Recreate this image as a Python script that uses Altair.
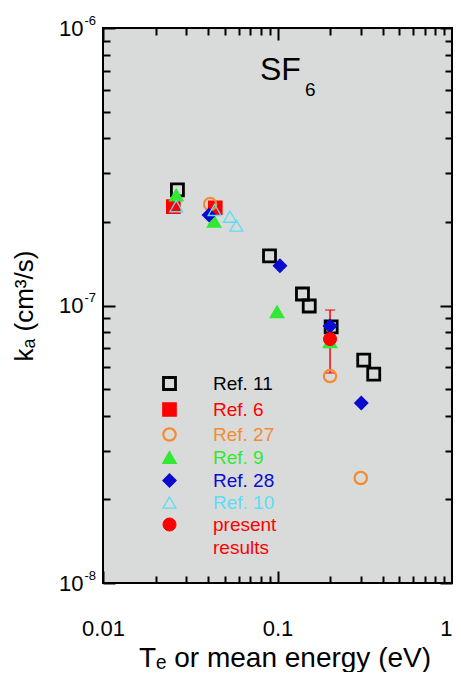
import altair as alt
import pandas as pd

# ---------------- data ----------------
series = ["Ref. 11", "Ref. 6", "Ref. 27", "Ref. 9", "Ref. 28", "Ref. 10", "present results"]
colors = ["#000000", "#ff0000", "#f58b2e", "#33e833", "#0a0ad0", "#5fdcf5", "#ff0000"]
fills = ["transparent", "#ff0000", "transparent", "#33e833", "#0a0ad0", "transparent", "#ff0000"]
shapes = ["square", "square", "circle", "triangle-up", "diamond", "triangle-up", "circle"]
sizes = [144, 170, 60, 180, 190, 150, 144]
stroke_widths = [2.8, 1, 4, 1, 1, 3.5, 1]

ref11_x = [0.0267, 0.090, 0.139, 0.152, 0.203, 0.312, 0.356]
ref11_y = [2.61e-7, 1.51e-7, 1.10e-7, 9.96e-8, 8.37e-8, 6.36e-8, 5.66e-8]
ref6_x = [0.0253, 0.044]
ref6_y = [2.27e-7, 2.25e-7]
ref27_x = [0.0411, 0.200, 0.300]
ref27_y = [2.32e-7, 5.57e-8, 2.39e-8]
ref9_x = [0.0263, 0.0433, 0.0994, 0.200]
ref9_y = [2.50e-7, 2.01e-7, 9.48e-8, 7.4e-8]
ref28_x = [0.0405, 0.1033, 0.200, 0.302]
ref28_y = [2.12e-7, 1.39e-7, 8.43e-8, 4.45e-8]
ref10_x = [0.0263, 0.0436, 0.0534, 0.0581]
ref10_y = [2.28e-7, 2.21e-7, 2.09e-7, 1.94e-7]
present_x = [0.200]
present_y = [7.57e-8]
err_lo = [5.71e-8]
err_hi = [9.63e-8]

x_major = [0.01, 0.1, 1]
x_minor = [m * d for d in (0.01, 0.1) for m in range(2, 10)]
y_major = [1e-8, 1e-7, 1e-6]
y_minor = [m * d for d in (1e-8, 1e-7) for m in range(2, 10)]

title_main = "SF"
title_sub = "6"
x_title = "Tₑ or mean energy (eV)"
y_title = "kₐ (cm³/s)"

# ---------------- tables ----------------
xs_all = [ref11_x, ref6_x, ref27_x, ref9_x, ref28_x, ref10_x, present_x]
ys_all = [ref11_y, ref6_y, ref27_y, ref9_y, ref28_y, ref10_y, present_y]
rows = []
for s, xv, yv in zip(series, xs_all, ys_all):
    for a, b in zip(xv, yv):
        rows.append({"x": a, "y": b, "series": s})
df = pd.DataFrame(rows)
df_err = pd.DataFrame({"x": present_x, "lo": err_lo, "hi": err_hi})
df_caps = pd.DataFrame({"x": present_x * 2, "y": err_lo + err_hi})

FONT = "Liberation Sans"
W, H = 349, 555
xs = alt.Scale(type="log", domain=[0.01, 1], nice=False)
ys = alt.Scale(type="log", domain=[1e-8, 1e-6], nice=False)

color_expr = " : ".join(f"datum.value === '{s}' ? '{c}'" for s, c in zip(series, colors)) + " : 'black'"
label_expr = "datum.value === 'present results' ? ['present', 'results'] : datum.label"

legend = alt.Legend(
    title=None, orient="none", legendX=57, legendY=346,
    labelFontSize=19, labelFont=FONT, labelColor={"expr": color_expr},
    labelExpr=label_expr, rowPadding=2, labelOffset=34, labelLimit=300,
    symbolOpacity=1,
)

# ---------------- layers ----------------
err = alt.Chart(df_err).mark_rule(color="#ff0000", strokeWidth=1.5).encode(
    x=alt.X("x:Q", scale=xs, axis=None),
    y=alt.Y("lo:Q", scale=ys, axis=None),
    y2="hi:Q",
)
caps = alt.Chart(df_caps).mark_tick(color="#ff0000", orient="horizontal", size=10, thickness=1.5).encode(
    x=alt.X("x:Q", scale=xs, axis=None),
    y=alt.Y("y:Q", scale=ys, axis=None),
)

points = alt.Chart(df).mark_point(filled=True, opacity=1).encode(
    x=alt.X("x:Q", scale=xs, axis=alt.Axis(
        orient="bottom", values=x_major, format="~g", ticks=False, tickSize=0, domain=False, grid=False,
        labelFontSize=22, labelFont=FONT, labelColor="black", labelPadding=35, labelFlush=False,
        labelAlign={"condition": {"test": "datum.value >= 1", "value": "right"}, "value": "center"},
        title=x_title, titleFontSize=28, titleFont=FONT, titleFontWeight="normal",
        titleColor="black", titlePadding=5, titleX=W / 2 + 7)),
    y=alt.Y("y:Q", scale=ys, axis=alt.Axis(
        orient="left", values=y_major, labelExpr="'10'", ticks=False, tickSize=0, domain=False,
        grid=False, labelFontSize=22, labelFont=FONT, labelColor="black", labelPadding=20,
        labelAlign="right", labelFlush=False,
        title=y_title, titleFontSize=26, titleFont=FONT, titleFontWeight="normal",
        titleColor="black", titlePadding=21)),
    shape=alt.Shape("series:N", scale=alt.Scale(domain=series, range=shapes), legend=legend),
    fill=alt.Fill("series:N", scale=alt.Scale(domain=series, range=fills), legend=legend),
    stroke=alt.Stroke("series:N", scale=alt.Scale(domain=series, range=colors), legend=legend),
    size=alt.Size("series:N", scale=alt.Scale(domain=series, range=sizes), legend=legend),
    strokeWidth=alt.StrokeWidth("series:N", scale=alt.Scale(domain=series, range=stroke_widths), legend=legend),
    order=alt.Order("idx:Q"),
).transform_calculate(idx="indexof(" + str(series) + ", datum.series)")


def carrier(xaxis, yaxis):
    return alt.Chart(df).mark_point(opacity=0).encode(
        x=alt.X("x:Q", scale=xs, axis=xaxis),
        y=alt.Y("y:Q", scale=ys, axis=yaxis),
    )


def tick_axis(orient, values, size):
    return alt.Axis(orient=orient, values=values, labels=False, domain=False, grid=False,
                    ticks=True, tickSize=size, tickWidth=2, tickColor="black",
                    offset=-size, title=None)


exp_axis = alt.Axis(orient="left", values=y_major,
                    labelExpr="'-' + round(-log(datum.value) / LN10)",
                    ticks=False, tickSize=0, domain=False, grid=False,
                    labelFontSize=13, labelFont=FONT, labelColor="black",
                    labelPadding=19, labelAlign="left", labelOffset=-8, labelFlush=False,
                    title=None)

layers = [
    err, caps, points,
    carrier(None, exp_axis),
    carrier(tick_axis("bottom", x_major, 12), tick_axis("left", y_major, 12)),
    carrier(tick_axis("bottom", x_minor, 7), tick_axis("left", y_minor, 7)),
    carrier(tick_axis("top", x_major, 12), tick_axis("right", y_major, 12)),
    carrier(tick_axis("top", x_minor, 7), tick_axis("right", y_minor, 7)),
    alt.Chart(pd.DataFrame({"t": [title_main]})).mark_text(
        font=FONT, fontSize=32, align="left", baseline="alphabetic", color="black"
    ).encode(x=alt.value(157), y=alt.value(52), text="t:N"),
    alt.Chart(pd.DataFrame({"t": [title_sub]})).mark_text(
        font=FONT, fontSize=19, align="left", baseline="alphabetic", color="black"
    ).encode(x=alt.value(202), y=alt.value(68), text="t:N"),
]

chart = alt.layer(*layers).resolve_axis(x="independent", y="independent").properties(
    width=W, height=H,
    autosize=alt.AutoSizeParams(type="none"),
    padding={"left": 95, "top": 20, "right": 1, "bottom": 89},
).configure(
    view=alt.ViewConfig(fill="#d9dbdb", stroke="black", strokeWidth=2),
    style={"guide-label": {"lineHeight": 23}},
)

chart.save("out.html", embed_options={"renderer": "svg", "actions": False})
